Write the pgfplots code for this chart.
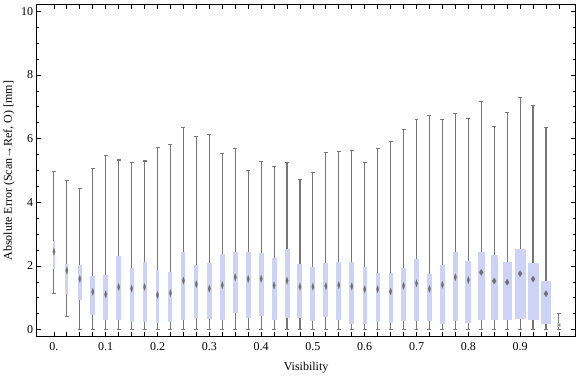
\documentclass[border=0pt]{standalone}
\usepackage{pgfplots}
\pgfplotsset{compat=1.18}
\usepgfplotslibrary{statistics}
\usepackage{fontspec}
\setmainfont{Liberation Serif}
\definecolor{boxblue}{RGB}{204,211,246}
\definecolor{whisk}{RGB}{118,118,118}
\definecolor{medc}{RGB}{112,112,112}
\begin{document}
\begin{tikzpicture}
\begin{axis}[
  scale only axis, width=539.4bp, height=332.3bp,
  xmin=-0.0334, xmax=1.007, ymin=-0.219, ymax=10.21,
  axis line style={line width=0.8bp, black},
  tick align=inside,
  xtick pos=both, ytick pos=both,
  xticklabel pos=lower, yticklabel pos=left,
  major tick length=4.5bp, minor tick length=2.7bp,
  every tick/.style={line width=0.8bp, black},
  xtick={0,0.025,0.05,0.075,0.1,0.125,0.15,0.175,0.2,0.225,0.25,0.275,0.3,0.325,0.35,0.375,0.4,0.425,0.45,0.475,0.5,0.525,0.55,0.575,0.6,0.625,0.65,0.675,0.7,0.725,0.75,0.775,0.8,0.825,0.85,0.875,0.9,0.925,0.95,0.975},
  xticklabels={0.,,,,0.1,,,,0.2,,,,0.3,,,,0.4,,,,0.5,,,,0.6,,,,0.7,,,,0.8,,,,0.9,,,},
  ytick={0,2,4,6,8,10}, minor y tick num=3,
  /pgf/number format/assume math mode=true,
  ticklabel style={font=\fontsize{12bp}{14bp}\selectfont, black},
  xticklabel style={yshift=-2bp},
  label style={font=\fontsize{12bp}{14bp}\selectfont},
  xlabel style={yshift=-5bp},
  xlabel={Visibility},
  ylabel={Absolute Error (Scan→Ref, O) [mm]},
  boxplot/draw direction=y,
  boxplot/every box/.style={draw=none, fill=boxblue},
  boxplot/every whisker/.style={draw=whisk, line width=1.1bp},
  boxplot/every median/.style={draw=none},
]
\addplot[boxplot prepared={draw position=0,     lower whisker=1.15, lower quartile=1.92, median=2.45, upper quartile=2.80, upper whisker=4.98, box extend=0.0052, whisker extend=0.0077}] coordinates {};
\addplot[boxplot prepared={draw position=0.025, lower whisker=0.42, lower quartile=1.13, median=1.86, upper quartile=2.07, upper whisker=4.70, box extend=0.0058, whisker extend=0.0077}] coordinates {};
\addplot[boxplot prepared={draw position=0.05,  lower whisker=0, lower quartile=0.92, median=1.59, upper quartile=2.03, upper whisker=4.44, box extend=0.0083, whisker extend=0.0077}] coordinates {};
\addplot[boxplot prepared={draw position=0.075, lower whisker=0, lower quartile=0.45, median=1.19, upper quartile=1.69, upper whisker=5.05, box extend=0.0097, whisker extend=0.0077}] coordinates {};
\addplot[boxplot prepared={draw position=0.1,   lower whisker=0, lower quartile=0.31, median=1.11, upper quartile=1.71, upper whisker=5.47, box extend=0.0097, whisker extend=0.0077}] coordinates {};
\addplot[boxplot prepared={draw position=0.125, lower whisker=0, lower quartile=0.29, median=1.34, upper quartile=2.32, upper whisker=5.33, box extend=0.0097, whisker extend=0.0077}] coordinates {};
\addplot[boxplot prepared={draw position=0.15,  lower whisker=0, lower quartile=0.25, median=1.29, upper quartile=1.94, upper whisker=5.24, box extend=0.0077, whisker extend=0.0077}] coordinates {};
\addplot[boxplot prepared={draw position=0.175, lower whisker=0, lower quartile=0.25, median=1.34, upper quartile=2.12, upper whisker=5.30, box extend=0.0077, whisker extend=0.0077}] coordinates {};
\addplot[boxplot prepared={draw position=0.2,   lower whisker=0, lower quartile=0.21, median=1.09, upper quartile=1.88, upper whisker=5.72, box extend=0.0064, whisker extend=0.0077}] coordinates {};
\addplot[boxplot prepared={draw position=0.225, lower whisker=0, lower quartile=0.23, median=1.15, upper quartile=1.81, upper whisker=5.82, box extend=0.0077, whisker extend=0.0077}] coordinates {};
\addplot[boxplot prepared={draw position=0.25,  lower whisker=0, lower quartile=0.31, median=1.54, upper quartile=2.43, upper whisker=6.35, box extend=0.0077, whisker extend=0.0077}] coordinates {};
\addplot[boxplot prepared={draw position=0.275, lower whisker=0, lower quartile=0.38, median=1.43, upper quartile=2.03, upper whisker=6.08, box extend=0.0077, whisker extend=0.0077}] coordinates {};
\addplot[boxplot prepared={draw position=0.3,   lower whisker=0, lower quartile=0.34, median=1.29, upper quartile=2.10, upper whisker=6.13, box extend=0.0087, whisker extend=0.0077}] coordinates {};
\addplot[boxplot prepared={draw position=0.325, lower whisker=0, lower quartile=0.31, median=1.40, upper quartile=2.38, upper whisker=5.54, box extend=0.0093, whisker extend=0.0077}] coordinates {};
\addplot[boxplot prepared={draw position=0.35,  lower whisker=0, lower quartile=0.54, median=1.65, upper quartile=2.44, upper whisker=5.69, box extend=0.0097, whisker extend=0.0077}] coordinates {};
\addplot[boxplot prepared={draw position=0.375, lower whisker=0, lower quartile=0.38, median=1.59, upper quartile=2.44, upper whisker=5.00, box extend=0.0097, whisker extend=0.0077}] coordinates {};
\addplot[boxplot prepared={draw position=0.4,   lower whisker=0, lower quartile=0.44, median=1.60, upper quartile=2.41, upper whisker=5.28, box extend=0.0097, whisker extend=0.0077}] coordinates {};
\addplot[boxplot prepared={draw position=0.425, lower whisker=0, lower quartile=0.31, median=1.39, upper quartile=2.25, upper whisker=5.13, box extend=0.0097, whisker extend=0.0077}] coordinates {};
\addplot[boxplot prepared={draw position=0.45,  lower whisker=0, lower quartile=0.38, median=1.54, upper quartile=2.54, upper whisker=5.25, box extend=0.0097, whisker extend=0.0077}] coordinates {};
\addplot[boxplot prepared={draw position=0.475, lower whisker=0, lower quartile=0.38, median=1.35, upper quartile=2.07, upper whisker=4.72, box extend=0.0097, whisker extend=0.0077}] coordinates {};
\addplot[boxplot prepared={draw position=0.5,   lower whisker=0, lower quartile=0.28, median=1.35, upper quartile=1.97, upper whisker=4.94, box extend=0.0097, whisker extend=0.0077}] coordinates {};
\addplot[boxplot prepared={draw position=0.525, lower whisker=0, lower quartile=0.41, median=1.37, upper quartile=2.10, upper whisker=5.56, box extend=0.0097, whisker extend=0.0077}] coordinates {};
\addplot[boxplot prepared={draw position=0.55,  lower whisker=0, lower quartile=0.31, median=1.40, upper quartile=2.13, upper whisker=5.60, box extend=0.0097, whisker extend=0.0077}] coordinates {};
\addplot[boxplot prepared={draw position=0.575, lower whisker=0, lower quartile=0.19, median=1.36, upper quartile=2.13, upper whisker=5.63, box extend=0.0097, whisker extend=0.0077}] coordinates {};
\addplot[boxplot prepared={draw position=0.6,   lower whisker=0, lower quartile=0.19, median=1.27, upper quartile=1.97, upper whisker=5.26, box extend=0.0077, whisker extend=0.0077}] coordinates {};
\addplot[boxplot prepared={draw position=0.625, lower whisker=0, lower quartile=0.25, median=1.27, upper quartile=1.78, upper whisker=5.69, box extend=0.0077, whisker extend=0.0077}] coordinates {};
\addplot[boxplot prepared={draw position=0.65,  lower whisker=0, lower quartile=0.22, median=1.20, upper quartile=1.79, upper whisker=5.91, box extend=0.0077, whisker extend=0.0077}] coordinates {};
\addplot[boxplot prepared={draw position=0.675, lower whisker=0, lower quartile=0.26, median=1.38, upper quartile=1.95, upper whisker=6.28, box extend=0.0083, whisker extend=0.0077}] coordinates {};
\addplot[boxplot prepared={draw position=0.7,   lower whisker=0, lower quartile=0.26, median=1.46, upper quartile=2.22, upper whisker=6.60, box extend=0.0097, whisker extend=0.0077}] coordinates {};
\addplot[boxplot prepared={draw position=0.725, lower whisker=0, lower quartile=0.26, median=1.28, upper quartile=1.76, upper whisker=6.72, box extend=0.0097, whisker extend=0.0077}] coordinates {};
\addplot[boxplot prepared={draw position=0.75,  lower whisker=0, lower quartile=0.17, median=1.41, upper quartile=2.04, upper whisker=6.60, box extend=0.0097, whisker extend=0.0077}] coordinates {};
\addplot[boxplot prepared={draw position=0.775, lower whisker=0, lower quartile=0.26, median=1.65, upper quartile=2.44, upper whisker=6.78, box extend=0.0097, whisker extend=0.0077}] coordinates {};
\addplot[boxplot prepared={draw position=0.8,   lower whisker=0, lower quartile=0.20, median=1.56, upper quartile=2.16, upper whisker=6.63, box extend=0.0122, whisker extend=0.0077}] coordinates {};
\addplot[boxplot prepared={draw position=0.825, lower whisker=0, lower quartile=0.29, median=1.80, upper quartile=2.44, upper whisker=7.16, box extend=0.0135, whisker extend=0.0077}] coordinates {};
\addplot[boxplot prepared={draw position=0.85,  lower whisker=0, lower quartile=0.29, median=1.53, upper quartile=2.35, upper whisker=6.38, box extend=0.0135, whisker extend=0.0077}] coordinates {};
\addplot[boxplot prepared={draw position=0.875, lower whisker=0, lower quartile=0.29, median=1.49, upper quartile=2.13, upper whisker=6.82, box extend=0.0174, whisker extend=0.0077}] coordinates {};
\addplot[boxplot prepared={draw position=0.9,   lower whisker=0, lower quartile=0.35, median=1.76, upper quartile=2.54, upper whisker=7.30, box extend=0.0212, whisker extend=0.0077}] coordinates {};
\addplot[boxplot prepared={draw position=0.925, lower whisker=0, lower quartile=0.32, median=1.59, upper quartile=2.10, upper whisker=7.05, box extend=0.0212, whisker extend=0.0077}] coordinates {};
\addplot[boxplot prepared={draw position=0.95,  lower whisker=0, lower quartile=0.17, median=1.13, upper quartile=1.53, upper whisker=6.35, box extend=0.0193, whisker extend=0.0077}] coordinates {};
\addplot[boxplot prepared={draw position=0.975, lower whisker=0, lower quartile=0.07, median=0.15, upper quartile=0.22, upper whisker=0.52, box extend=0.0083, whisker extend=0.0077}] coordinates {};
% medians
\addplot[color=medc, only marks, mark=diamond*, mark size=3.6bp, mark options={xscale=0.45, fill=medc, draw=medc, line width=0.2bp}] table {
x y
0 2.45
0.025 1.86
0.05 1.59
0.075 1.19
0.1 1.11
0.125 1.34
0.15 1.29
0.175 1.34
0.2 1.09
0.225 1.15
0.25 1.54
0.275 1.43
0.3 1.29
0.325 1.40
0.35 1.65
0.375 1.59
0.4 1.60
0.425 1.39
0.45 1.54
0.475 1.35
0.5 1.35
0.525 1.37
0.55 1.40
0.575 1.36
0.6 1.27
0.625 1.27
0.65 1.20
0.675 1.38
0.7 1.46
0.725 1.28
0.75 1.41
0.775 1.65
0.8 1.56
};
\addplot[color=medc, only marks, mark=diamond*, mark size=3bp, mark options={xscale=0.9, fill=medc, draw=medc, line width=0.2bp}] table {
x y
0.825 1.80
0.85 1.53
0.875 1.49
0.9 1.76
0.925 1.59
0.95 1.13
};
\addplot[color=medc, only marks, mark=diamond*, mark size=1bp, mark options={fill=medc, draw=medc, line width=0.2bp}] table {
x y
0.975 0.15
};
\end{axis}
\path ([shift={(-36.3bp,-40bp)}]current axis.south west) rectangle ([shift={(0.5bp,4.7bp)}]current axis.north east);
\end{tikzpicture}
\end{document}
